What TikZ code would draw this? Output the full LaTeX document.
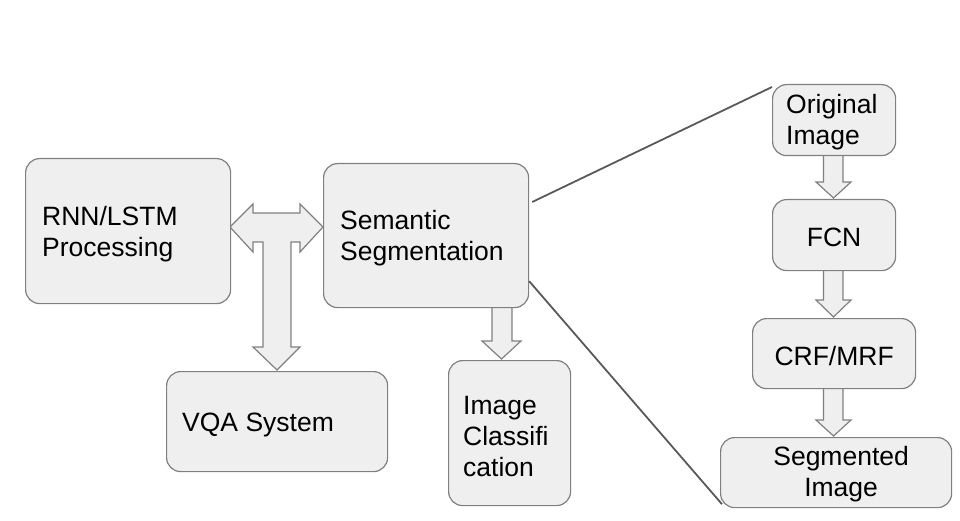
\documentclass[tikz,border=0pt]{standalone}
\usepackage{fontspec}
\setmainfont{Liberation Sans}
\usetikzlibrary{calc}
\definecolor{boxfill}{HTML}{EFEFEF}
\definecolor{boxline}{HTML}{808080}
\definecolor{conline}{HTML}{595959}
\begin{document}
\begin{tikzpicture}[x=1pt,y=-1pt,
  box/.style={draw=boxline, fill=boxfill, line width=1.2pt, rounded corners=14pt,
    anchor=north west, inner sep=0pt},
  txt/.style={inner sep=0pt, font=\fontsize{26.5}{31}\selectfont},
  ltxt/.style={txt, align=left, anchor=west},
  ctxt/.style={txt, align=center},
  barrow/.style={draw=boxline, fill=boxfill, line width=1.2pt, line join=miter},
  con/.style={draw=conline, line width=1.8pt}]
\useasboundingbox (0,0) rectangle (960,521);
% block arrows
\path[barrow] (230,227) -- (253,204) -- (253,213) -- (300,213) -- (300,204) -- (323,227)
  -- (300,252) -- (300,242) -- (291,242) -- (291,347) -- (300,347) -- (277,370)
  -- (253,347) -- (263,347) -- (263,242) -- (253,242) -- (253,252) -- cycle;
\path[barrow] (492,300) -- (512,300) -- (512,341) -- (521,341) -- (501.5,359) -- (482,341) -- (492,341) -- cycle;
\foreach \t/\m/\b in {150/182/198, 265/300/317, 383/420/436}{
  \path[barrow] (823.5,\t) -- (843,\t) -- (843,\m) -- (851,\m) -- (833.5,\b) -- (816,\m) -- (823.5,\m) -- cycle;
}
% boxes
\node[box, minimum width=205pt, minimum height=145pt] (rnn) at (25,158) {};
\node[box, minimum width=205pt, minimum height=144pt] (sem) at (323,163) {};
\node[box, minimum width=221pt, minimum height=100pt] (vqa) at (166,371) {};
\node[box, minimum width=122pt, minimum height=145pt] (cls) at (448,360) {};
\node[box, minimum width=123pt, minimum height=71pt] (orig) at (772,84) {};
\node[box, minimum width=123pt, minimum height=71pt] (fcn) at (772,199) {};
\node[box, minimum width=163pt, minimum height=70pt] (crf) at (752,318) {};
\node[box, minimum width=231pt, minimum height=70pt] (seg) at (720,437) {};
% texts
\node[ltxt] (rnnt) at ($(rnn.west)+(17,3)$) {RNN/LSTM\\Processing};
\node[ltxt] (semt) at ($(sem.west)+(17,3)$) {Semantic\\Segmentation};
\node[ltxt] (vqat) at ($(vqa.west)+(16,3)$) {VQA System};
\node[ltxt] (clst) at ($(cls.west)+(15,3)$) {Image\\Classifi\\cation};
\node[ltxt] (origt) at ($(orig.west)+(14,2)$) {Original\\Image};
\node[ctxt] (fcnt) at ($(fcn.center)+(0,2)$) {FCN};
\node[ctxt] (crft) at ($(crf.center)+(0,2)$) {CRF/MRF};
\node[ctxt] (segt) at ($(seg.center)+(5,2)$) {Segmented\\Image};
% connectors
\draw[con] ($(sem.north east)+(3,39)$) -- ($(orig.north west)+(0,3)$);
\draw[con] ($(sem.south east)+(0,-27)$) -- ($(seg.south west)+(2,-4)$);
\end{tikzpicture}
\end{document}
